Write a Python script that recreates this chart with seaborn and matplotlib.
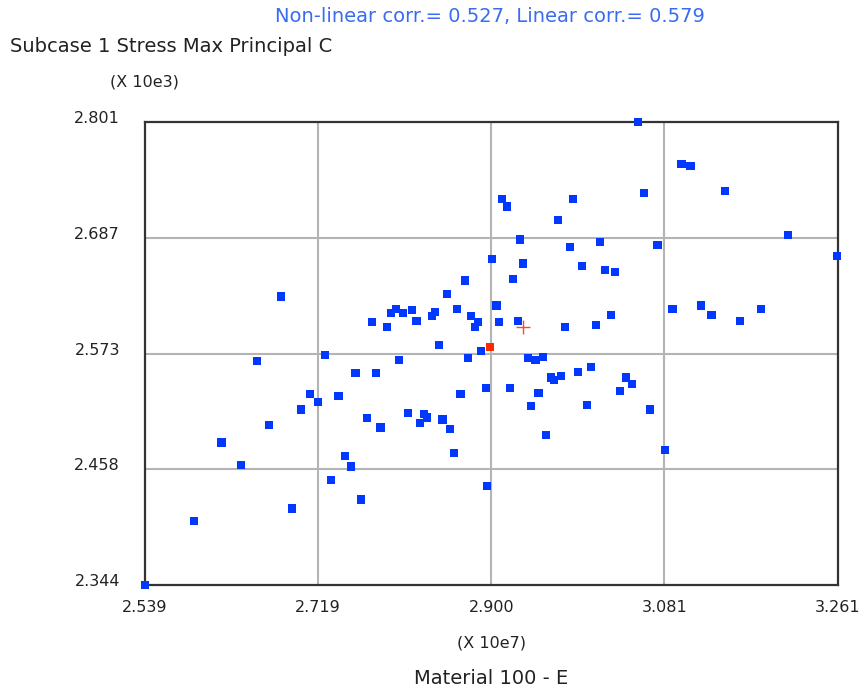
import matplotlib
matplotlib.use("Agg")
import matplotlib.pyplot as plt
import matplotlib.transforms as mtransforms
import seaborn as sns
import pandas as pd

# ---- data (Material 100 - E [x 10e7] vs Stress Max Principal C [x 10e3]) ----
x_vals = [2.6811, 2.7754, 2.7910, 2.7955, 2.8004, 2.8080, 2.8174, 2.8219, 2.8379, 2.8411,
          2.8536, 2.8723, 2.8646, 2.8786, 2.8862, 2.8834, 2.8458, 3.0527, 3.0982, 3.1076,
          3.1434, 3.0590, 2.9115, 2.9164, 2.9853, 2.9696, 2.9303, 2.9821, 3.0137, 3.0732,
          3.2094, 3.2608, 2.9005, 2.9334, 2.9224, 2.9946, 3.0183, 3.0290, 2.9053, 2.9084,
          2.9276, 2.9772, 3.0089, 3.0246, 3.0888, 3.1184, 3.1295, 3.1594, 3.1813, 2.5390,
          2.5904, 2.6923, 2.6388, 2.6186, 2.6686, 2.6561, 2.7267, 2.7017, 2.7110, 2.7191,
          2.7406, 2.7583, 2.7799, 2.8035, 2.7705, 2.7847, 2.8129, 2.8257, 2.8299, 2.8333,
          2.8490, 2.8567, 2.8612, 2.8678, 2.8942, 2.8758, 2.8896, 2.7472, 2.7535, 2.7329,
          2.7642, 2.8959, 2.9383, 2.9460, 2.9537, 2.9196, 2.9491, 2.9415, 2.9620, 2.9651,
          2.9727, 2.9902, 3.0040, 2.9995, 2.9571, 3.0402, 3.0465, 3.0339, 3.0652, 3.0809]
y_vals = [2.6288, 2.6038, 2.5991, 2.6127, 2.6169, 2.6127, 2.6156, 2.6050, 2.6094, 2.6139,
          2.6317, 2.6449, 2.6169, 2.6097, 2.6038, 2.5991, 2.5810, 2.8010, 2.7598, 2.7581,
          2.7329, 2.7315, 2.7255, 2.7180, 2.7255, 2.7045, 2.6854, 2.6778, 2.6825, 2.6795,
          2.6897, 2.6689, 2.6660, 2.6617, 2.6465, 2.6588, 2.6554, 2.6529, 2.6199, 2.6035,
          2.6050, 2.5991, 2.6008, 2.6110, 2.6169, 2.6199, 2.6110, 2.6050, 2.6169, 2.3440,
          2.4075, 2.4194, 2.4622, 2.4846, 2.5023, 2.5650, 2.5709, 2.5175, 2.5324, 2.5248,
          2.5307, 2.5531, 2.5531, 2.5662, 2.5087, 2.4994, 2.5142, 2.5040, 2.5132, 2.5096,
          2.5073, 2.4981, 2.4741, 2.5324, 2.5383, 2.5679, 2.5754, 2.4714, 2.4609, 2.4474,
          2.4283, 2.4415, 2.5682, 2.5665, 2.5695, 2.5383, 2.5336, 2.5205, 2.5488, 2.5468,
          2.5504, 2.5547, 2.5593, 2.5218, 2.4919, 2.5488, 2.5428, 2.5353, 2.5175, 2.4773]
nominal_x = [2.8990]
nominal_y = [2.5788]
mean_x = [2.9334]
mean_y = [2.5988]

x_ticks = [2.539, 2.7195, 2.900, 3.0805, 3.261]
x_tick_labels = ["2.539", "2.719", "2.900", "3.081", "3.261"]
y_ticks = [2.344, 2.45825, 2.5725, 2.68675, 2.801]
y_tick_labels = ["2.344", "2.458", "2.573", "2.687", "2.801"]

title_text = "Non-linear corr.= 0.527, Linear corr.= 0.579"
y_title = "Subcase 1 Stress Max Principal C"
y_scale = "(X 10e3)"
x_scale = "(X 10e7)"
x_title = "Material 100 - E"

df = pd.DataFrame({"x": x_vals, "y": y_vals})
df_nom = pd.DataFrame({"x": nominal_x, "y": nominal_y})
df_mean = pd.DataFrame({"x": mean_x, "y": mean_y})

sns.set_theme(style="white")
plt.rcParams["font.family"] = ["DejaVu Sans"]

fig = plt.figure(figsize=(8.63, 6.94), dpi=100)
ax = fig.add_axes([145 / 863, 1 - 585 / 694, (837.5 - 145) / 863, (585 - 122.3) / 694])

BLUE = "#0038ff"
sns.scatterplot(data=df, x="x", y="y", ax=ax, marker="s", s=36, color=BLUE,
                edgecolor="none", linewidth=0, zorder=5, clip_on=False)
sns.scatterplot(data=df_nom, x="x", y="y", ax=ax, marker="s", s=36, color="#ff2a00",
                edgecolor="none", linewidth=0, zorder=6, clip_on=False)
sns.scatterplot(data=df_mean, x="x", y="y", ax=ax, marker="+", s=110, color="#ff4a2a",
                linewidth=1.0, zorder=6, clip_on=False)

ax.set_xlim(x_ticks[0], x_ticks[-1])
ax.set_ylim(y_ticks[0], y_ticks[-1])
ax.set_xticks(x_ticks)
ax.set_xticklabels(x_tick_labels)
ax.set_yticks(y_ticks)
ax.set_yticklabels(y_tick_labels)
ax.set_xlabel("")
ax.set_ylabel("")

for v in x_ticks[1:-1]:
    ax.axvline(v, color="#b4b4b4", lw=1.5, zorder=1)
for v in y_ticks[1:-1]:
    ax.axhline(v, color="#b4b4b4", lw=1.5, zorder=1)

for s in ax.spines.values():
    s.set_visible(True)
    s.set_color("#333333")
    s.set_linewidth(1.6)

ax.tick_params(axis="both", length=0, labelsize=11.5, colors="#222222")
ax.tick_params(axis="y", pad=18)
ax.tick_params(axis="x", pad=11)
offset = mtransforms.ScaledTranslation(0, 5 / 100, fig.dpi_scale_trans)
for lab in ax.get_yticklabels():
    lab.set_transform(lab.get_transform() + offset)

fig.text(490 / 863, 1 - 17 / 694, title_text, color="#3a6cf0", fontsize=14,
         ha="center", va="center")
fig.text(10 / 863, 1 - 46 / 694, y_title, color="#222222", fontsize=14,
         ha="left", va="center")
fig.text(144 / 863, 1 - 82 / 694, y_scale, color="#222222", fontsize=11.5,
         ha="center", va="center")
fig.text(491 / 863, 1 - 643 / 694, x_scale, color="#222222", fontsize=11.5,
         ha="center", va="center")
fig.text(491 / 863, 1 - 679 / 694, x_title, color="#222222", fontsize=14,
         ha="center", va="center")

fig.savefig("out.png", dpi=100)
